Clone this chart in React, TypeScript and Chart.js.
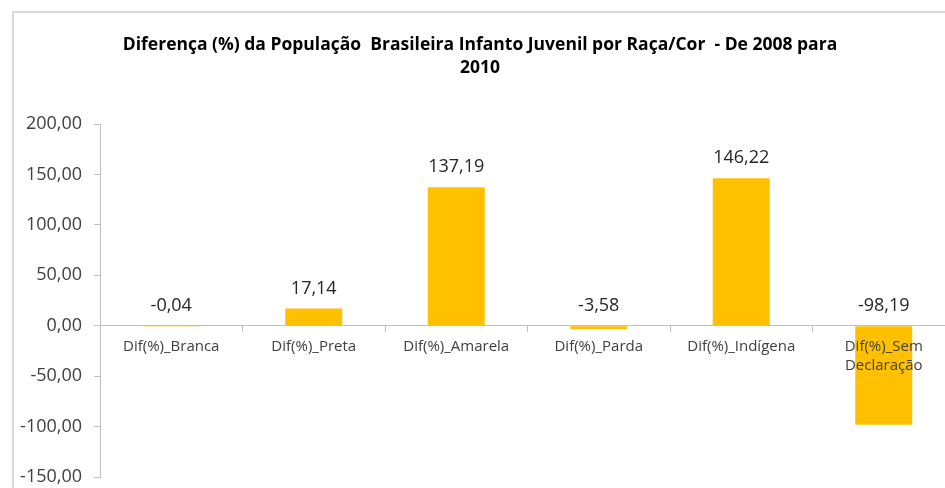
import React, { useEffect, useRef } from "react";
import { Chart, registerables } from "chart.js";

Chart.register(...registerables);

const titleLines = [
  "Diferença (%) da População  Brasileira Infanto Juvenil por Raça/Cor  - De 2008 para",
  "2010",
];
const categories: (string | string[])[] = [
  "Dif(%)_Branca",
  "Dif(%)_Preta",
  "Dif(%)_Amarela",
  "Dif(%)_Parda",
  "Dif(%)_Indígena",
  ["Dif(%)_Sem", "Declaração"],
];
const values = [-0.04, 17.14, 137.19, -3.58, 146.22, -98.19];
const yMin = -150;
const yMax = 200;
const yStep = 50;

const FONT = "'Open Sans', Lato, 'DejaVu Sans', sans-serif";
const fmt = (v: number) => v.toFixed(2).replace(".", ",");

const framePlugin = {
  id: "frame",
  beforeDraw(chart: any) {
    const ctx = chart.ctx;
    ctx.save();
    ctx.fillStyle = "#ffffff";
    ctx.fillRect(0, 0, chart.width, chart.height);
    ctx.strokeStyle = "#d9d9d9";
    ctx.lineWidth = 2;
    ctx.beginPath();
    ctx.moveTo(13, chart.height + 5);
    ctx.lineTo(13, 12);
    ctx.lineTo(chart.width + 5, 12);
    ctx.stroke();
    ctx.fillStyle = "#000000";
    ctx.font = `bold 17.5px ${FONT}`;
    ctx.textAlign = "center";
    ctx.textBaseline = "middle";
    ctx.fillText(titleLines[0], 480, 45);
    ctx.fillText(titleLines[1], 480, 68);
    ctx.restore();
  },
};

const labelPlugin = {
  id: "valueLabels",
  afterDatasetsDraw(chart: any) {
    const ctx = chart.ctx;
    const meta = chart.getDatasetMeta(0);
    const yScale = chart.scales.y;
    ctx.save();
    ctx.fillStyle = "#262626";
    ctx.font = `18px ${FONT}`;
    ctx.textAlign = "center";
    ctx.textBaseline = "middle";
    meta.data.forEach((bar: any, i: number) => {
      const v = values[i];
      const y = yScale.getPixelForValue(Math.max(v, 0)) - 20;
      ctx.fillText(fmt(v), bar.x, y);
    });
    ctx.restore();
  },
};

export default function App() {
  const ref = useRef<HTMLCanvasElement>(null);
  useEffect(() => {
    document.body.style.margin = "0";
    const chart = new Chart(ref.current!, {
      type: "bar",
      data: {
        labels: categories,
        datasets: [
          {
            data: values,
            backgroundColor: "#FFC000",
            borderWidth: 0,
            categoryPercentage: 1,
            barPercentage: 0.4,
          },
        ],
      },
      options: {
        animation: false,
        responsive: false,
        devicePixelRatio: 1,
        layout: { padding: { left: 12, top: 124, right: 5, bottom: 11 } },
        plugins: {
          legend: { display: false },
          title: { display: false },
          tooltip: { enabled: false },
        },
        scales: {
          x: {
            position: { y: 0 } as any,
            grid: {
              offset: true,
              drawOnChartArea: false,
              drawTicks: true,
              tickLength: 6,
              color: "#bfbfbf",
            },
            border: { display: true, color: "#bfbfbf", width: 1 },
            ticks: {
              z: 1,
              color: "#404040",
              font: { family: FONT, size: 15, lineHeight: 1.3 },
              padding: 5,
              maxRotation: 0,
              autoSkip: false,
            },
          },
          y: {
            min: yMin,
            max: yMax,
            afterFit(scale: any) {
              scale.width = 88;
              scale.paddingTop = 0;
              scale.paddingBottom = 0;
            },
            grid: {
              drawOnChartArea: false,
              drawTicks: true,
              tickLength: 6,
              color: "#bfbfbf",
            },
            border: { display: true, color: "#bfbfbf", width: 1 },
            ticks: {
              stepSize: yStep,
              color: "#404040",
              font: { family: FONT, size: 18 },
              padding: 12,
              callback: (v: any) => fmt(Number(v)),
            },
          },
        },
      },
      plugins: [framePlugin, labelPlugin],
    });
    return () => chart.destroy();
  }, []);
  return (
    <div style={{ width: 945, height: 488, overflow: "hidden", position: "relative" }}>
      <canvas ref={ref} width={960} height={488} style={{ display: "block" }} />
    </div>
  );
}
